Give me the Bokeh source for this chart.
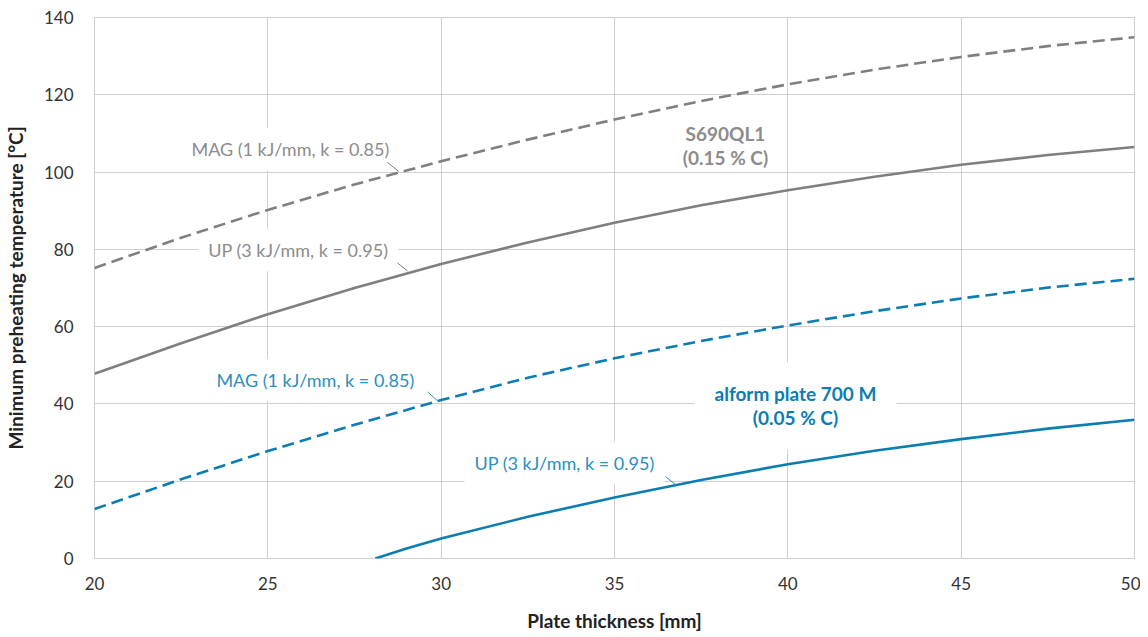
from bokeh.plotting import figure
from bokeh.models import Label, FixedTicker
from bokeh.embed import file_html
from bokeh.resources import INLINE

# --- data ---
thickness = [20, 22.5, 25, 27.5, 30, 32.5, 35, 37.5, 40, 42.5, 45, 47.5, 50]
s690_mag = [75.2, 83.0, 90.2, 96.8, 102.8, 108.4, 113.6, 118.4, 122.7, 126.5, 129.8, 132.6, 134.9]
s690_up = [47.8, 55.7, 63.2, 70.0, 76.2, 81.8, 86.9, 91.4, 95.3, 98.8, 101.9, 104.4, 106.5]
alform_mag = [12.8, 20.5, 27.8, 34.6, 41.0, 46.8, 51.8, 56.3, 60.3, 64.0, 67.3, 70.1, 72.4]
alform_up_x = [28.1, 29, 30, 32.5, 35, 37.5, 40, 42.5, 45, 47.5, 50]
alform_up = [0.0, 2.6, 5.2, 10.8, 15.8, 20.3, 24.4, 27.9, 30.9, 33.6, 35.9]

x_ticks = [20, 25, 30, 35, 40, 45, 50]
y_ticks = [0, 20, 40, 60, 80, 100, 120, 140]

GRAY = "#7f7f7f"
GRAY_TXT = "#8c8c8c"
BLUE = "#0b7db1"
BLUE_TXT = "#2a90c0"
FONT = "Lato"

p = figure(width=1140, height=634, output_backend="svg", toolbar_location=None,
           x_range=(20, 50), y_range=(0, 140),
           min_border_left=80, min_border_right=6, min_border_top=17, min_border_bottom=60)
p.background_fill_color = "white"
p.border_fill_color = "white"
p.outline_line_color = "#d0d0d0"

for ax in (p.xaxis[0], p.yaxis[0]):
    ax.axis_line_color = None
    ax.major_tick_line_color = None
    ax.minor_tick_line_color = None
    ax.major_label_text_font = FONT
    ax.major_label_text_font_size = "17px"
    ax.major_label_text_color = "#333333"
    ax.axis_label_text_font = FONT
    ax.axis_label_text_font_size = "19px"
    ax.axis_label_text_font_style = "bold"
    ax.axis_label_text_color = "#222222"

p.xaxis.ticker = FixedTicker(ticks=x_ticks)
p.yaxis.ticker = FixedTicker(ticks=y_ticks)
p.xaxis.major_label_standoff = 12
p.yaxis.major_label_standoff = 15
p.xaxis.axis_label = "Plate thickness [mm]"
p.yaxis.axis_label = "Minimum preheating temperature [°C]"
p.xaxis.axis_label_standoff = 16
p.yaxis.axis_label_standoff = 14

p.xgrid.ticker = FixedTicker(ticks=x_ticks)
p.ygrid.ticker = FixedTicker(ticks=y_ticks)
p.grid.grid_line_color = "#d0d0d0"
p.grid.grid_line_width = 1

p.line(thickness, s690_mag, line_color=GRAY, line_width=2.6, line_dash="12 6")
p.line(thickness, s690_up, line_color=GRAY, line_width=2.6)
p.line(thickness, alform_mag, line_color=BLUE, line_width=2.6, line_dash="12 6")
p.line(alform_up_x, alform_up, line_color=BLUE, line_width=2.6)

# leader lines
p.segment(x0=[28.45, 28.74], y0=[102.5, 76.5], x1=[28.77, 29.03], y1=[100.2, 74.4],
          line_color=GRAY, line_width=1)
p.segment(x0=[29.61, 36.47], y0=[43.1, 21.2], x1=[29.92, 36.76], y1=[40.6, 19.1],
          line_color=BLUE_TXT, line_width=1)

def lab(x, y, text, color, bold=False, size="18px", pad=10, bg="white"):
    p.add_layout(Label(x=x, y=y, text=text, text_align="center", text_baseline="middle",
                       text_font=FONT, text_font_size=size, text_color=color,
                       text_font_style="bold" if bold else "normal",
                       background_fill_color=bg, padding=pad, text_line_height=1.05,
                       level="underlay"))

lab(25.65, 105.9, "MAG (1 kJ/mm, k = 0.85)", GRAY_TXT)
lab(25.88, 79.8, "UP (3 kJ/mm, k = 0.95)", GRAY_TXT)
lab(26.37, 46.2, "MAG (1 kJ/mm, k = 0.85)", BLUE_TXT)
lab(33.56, 24.8, "UP (3 kJ/mm, k = 0.95)", BLUE_TXT)
lab(38.20, 106.9, "S690QL1\n(0.15 % C)", GRAY_TXT, bold=True, size="19px", pad=0, bg=None)
lab(40.22, 39.5, "alform plate 700 M\n(0.05 % C)", BLUE, bold=True, size="19px", pad=20)

open("out.html", "w").write(file_html(p, INLINE))
